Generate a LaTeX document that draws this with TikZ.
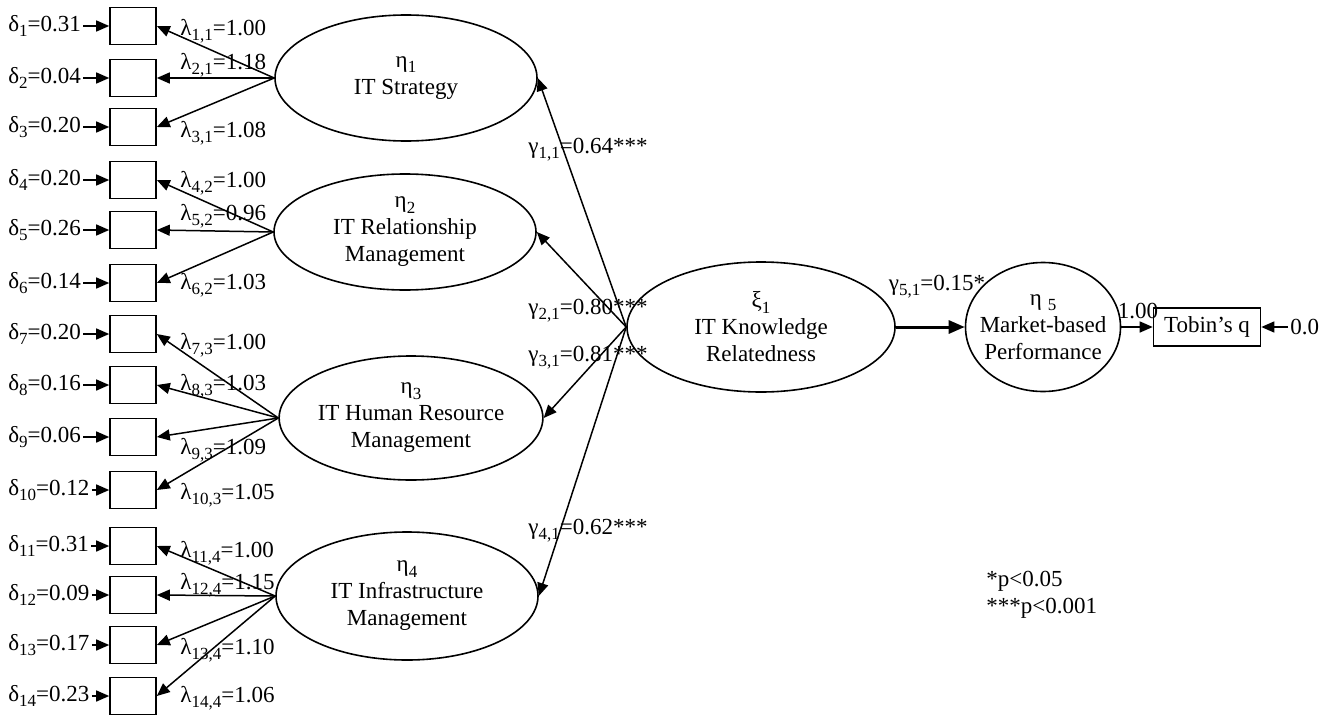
\documentclass[tikz,border=0pt]{standalone}
\usepackage{fontspec}
\setmainfont{Liberation Serif}
\usetikzlibrary{arrows.meta,shapes.geometric}
\newcommand{\idx}[1]{\raisebox{-0.5ex}{\fontsize{8.5}{9}\selectfont #1}}
\begin{document}
\begin{tikzpicture}[x=0.5pt,y=-0.5pt,font=\fontsize{11.5}{13.5}\selectfont,
	item/.style={draw,line width=0.8pt,minimum width=23pt,minimum height=18.5pt,inner sep=0pt},
	latent/.style={draw,ellipse,line width=0.8pt,align=center,inner sep=0pt},
	lbl/.style={inner sep=1pt},
	arr/.style={-{Triangle[length=6.5pt,width=5.5pt]},line width=0.75pt}]
\useasboundingbox (0,0) rectangle (1331,717);

% latent variables
\node[latent,minimum width=131pt,minimum height=63pt] (eta1) at (406,78) {η\idx{1}\\IT Strategy};
\node[latent,minimum width=131pt,minimum height=58pt] (eta2) at (405,232) {η\idx{2}\\IT Relationship\\Management};
\node[latent,minimum width=131pt,minimum height=62pt] (eta3) at (411,418) {η\idx{3}\\IT Human Resource\\Management};
\node[latent,minimum width=131pt,minimum height=64pt] (eta4) at (407,596) {η\idx{4}\\IT Infrastructure\\Management};
\node[latent,minimum width=134pt,minimum height=65pt] (xi1) at (761,327) {ξ\idx{1}\\IT Knowledge\\Relatedness};
\node[latent,inner xsep=-5pt,minimum width=77.5pt,minimum height=64.5pt] (eta5) at (1043,327) {η\hspace{3pt}\idx{5}\\Market-based\\Performance};
\node[item,minimum width=53.5pt,minimum height=19pt] (tq) at (1207,327) {Tobin’s q};

% indicators and errors
\foreach \i/\y/\d in {1/26/0.31,2/78/0.04,3/127/0.20,4/180/0.20,5/230/0.26,6/283/0.14,7/334/0.20,8/385/0.16,9/437/0.06,10/490/0.12,11/546/0.31,12/595/0.09,13/645/0.17,14/696/0.23}{
	\node[item] (x\i) at (133,\y) {};
	\node[lbl,anchor=west] (d\i) at (6,\y) {δ\idx{\i}=\d};
	\draw[arr] (d\i.east) -- (x\i.west);
}

% loadings
\foreach \i/\j/\v/\y in {1/1/1.00/31,2/1/1.18/65,3/1/1.08/133,4/2/1.00/183,5/2/0.96/216,6/2/1.03/285,7/3/1.00/345,8/3/1.03/386,9/3/1.09/450,10/3/1.05/495,11/4/1.00/553,12/4/1.15/585,13/4/1.10/650,14/4/1.06/698}{
	\draw[arr] (eta\j.west) -- (x\i.east);
	\node[lbl,anchor=west] (l\i) at (178,\y) {λ\idx{\i,\j}=\v};
}

% structural paths
\foreach \j/\v/\y in {1/0.64/150,2/0.80/311,3/0.81/358,4/0.62/531}{
	\draw[arr] (xi1.west) -- (eta\j.east);
	\node[lbl,anchor=west] (g\j) at (526,\y) {γ\idx{\j,1}=\v***};
}
\draw[arr,line width=1.5pt,-{Triangle[length=8pt,width=6.5pt]}] (xi1.east) -- (eta5.west);
\node[lbl] (g5) at (937,287) {γ\idx{5,1}=0.15*};
\draw[arr] (eta5.east) -- (tq.west);
\node[lbl] (w5) at (1138,311) {1.00};
\node[lbl,anchor=west] (e5) at (1288,327) {0.0};
\draw[arr] (e5.west) -- (tq.east);

% legend
\node[lbl,anchor=west,align=left] (key) at (984,595) {*p<0.05\\***p<0.001};
\end{tikzpicture}
\end{document}
